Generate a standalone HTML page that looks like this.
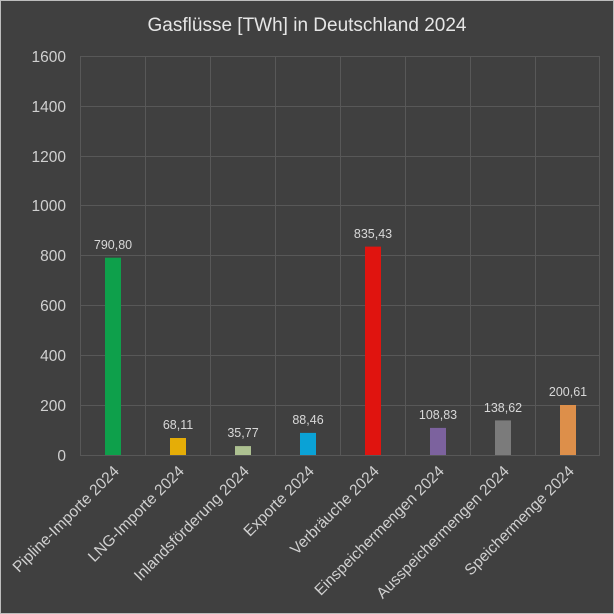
<!DOCTYPE html>
<html><head><meta charset="utf-8"><style>
html,body{margin:0;padding:0;background:#404040;}
svg{display:block;font-family:"Liberation Sans",sans-serif;}
</style></head><body>
<svg width="614" height="614" viewBox="0 0 614 614">
<rect x="0.5" y="0.5" width="613" height="613" fill="#404040" stroke="#bdbdbd"/>
<text x="307" y="31" text-anchor="middle" fill="#e6e6e6" font-size="19">Gasflüsse [TWh] in Deutschland 2024</text>
<g stroke="#585858" stroke-width="1">
<line x1="80" y1="56.5" x2="600" y2="56.5"/>
<line x1="80" y1="106.5" x2="600" y2="106.5"/>
<line x1="80" y1="156.5" x2="600" y2="156.5"/>
<line x1="80" y1="205.5" x2="600" y2="205.5"/>
<line x1="80" y1="255.5" x2="600" y2="255.5"/>
<line x1="80" y1="305.5" x2="600" y2="305.5"/>
<line x1="80" y1="355.5" x2="600" y2="355.5"/>
<line x1="80" y1="405.5" x2="600" y2="405.5"/>
<line x1="80" y1="455.5" x2="600" y2="455.5"/>
<line x1="80.5" y1="56" x2="80.5" y2="455"/>
<line x1="145.5" y1="56" x2="145.5" y2="455"/>
<line x1="210.5" y1="56" x2="210.5" y2="455"/>
<line x1="275.5" y1="56" x2="275.5" y2="455"/>
<line x1="340.5" y1="56" x2="340.5" y2="455"/>
<line x1="405.5" y1="56" x2="405.5" y2="455"/>
<line x1="470.5" y1="56" x2="470.5" y2="455"/>
<line x1="535.5" y1="56" x2="535.5" y2="455"/>
<line x1="599.5" y1="56" x2="599.5" y2="455"/>
</g>
<g fill="#d0d0d0" font-size="15.5" text-anchor="end">
<text x="66" y="62">1600</text><text x="66" y="112">1400</text><text x="66" y="162">1200</text>
<text x="66" y="211">1000</text><text x="66" y="261">800</text><text x="66" y="311">600</text>
<text x="66" y="361">400</text><text x="66" y="411">200</text><text x="66" y="461">0</text>
</g>
<g>
<rect x="105" y="257.7" width="16" height="197.3" fill="#0ea04b"/>
<rect x="170" y="438" width="16" height="17" fill="#e5ad07"/>
<rect x="235" y="446.1" width="16" height="8.9" fill="#adc191"/>
<rect x="300" y="432.9" width="16" height="22.1" fill="#0aa2d6"/>
<rect x="365" y="246.6" width="16" height="208.4" fill="#e0140f"/>
<rect x="430" y="427.9" width="16" height="27.1" fill="#7c629e"/>
<rect x="495" y="420.4" width="16" height="34.6" fill="#7b7b7b"/>
<rect x="560" y="405" width="16" height="50" fill="#dd8f4a"/>
</g>
<g fill="#d8d8d8" font-size="12.5" text-anchor="middle">
<text x="113" y="249">790,80</text><text x="178" y="429">68,11</text>
<text x="243" y="437">35,77</text><text x="308" y="424">88,46</text>
<text x="373" y="238">835,43</text><text x="438" y="419">108,83</text>
<text x="503" y="412">138,62</text><text x="568" y="396">200,61</text>
</g>
<g fill="#d0d0d0" font-size="15.5" text-anchor="end">
<text transform="translate(120,472) rotate(-45)">Pipline-Importe 2024</text>
<text transform="translate(185,472) rotate(-45)">LNG-Importe 2024</text>
<text transform="translate(250,472) rotate(-45)">Inlandsförderung 2024</text>
<text transform="translate(315,472) rotate(-45)">Exporte 2024</text>
<text transform="translate(380,472) rotate(-45)">Verbräuche 2024</text>
<text transform="translate(445,472) rotate(-45)">Einspeichermengen 2024</text>
<text transform="translate(510,472) rotate(-45)">Ausspeichermengen 2024</text>
<text transform="translate(575,472) rotate(-45)">Speichermenge 2024</text>
</g>
</svg>
</body></html>
